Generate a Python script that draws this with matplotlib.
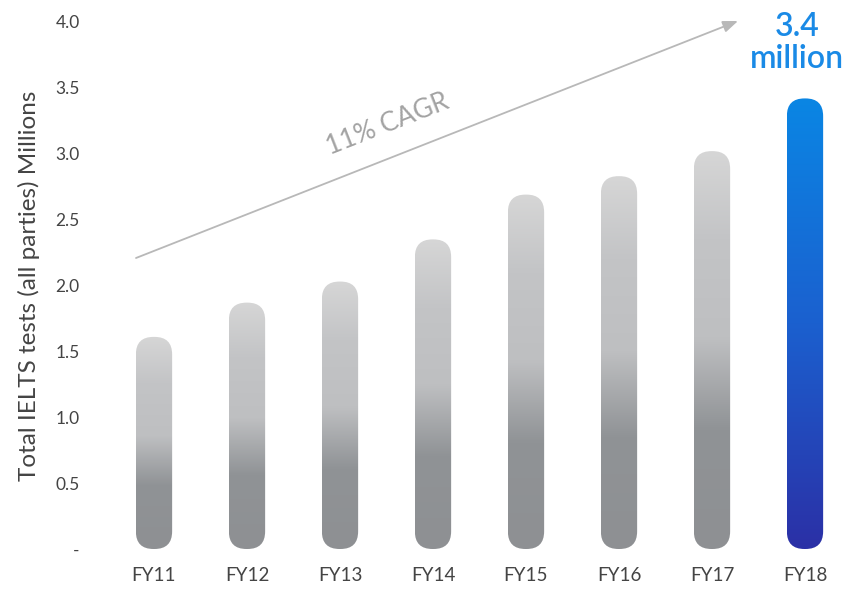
import numpy as np
import matplotlib
matplotlib.use("Agg")
import matplotlib.pyplot as plt
from matplotlib.patches import FancyBboxPatch
from matplotlib.colors import LinearSegmentedColormap

categories = ["FY11", "FY12", "FY13", "FY14", "FY15", "FY16", "FY17", "FY18"]
values = [1.61, 1.87, 2.03, 2.35, 2.69, 2.83, 3.02, 3.42]
ytick_vals = [0, 0.5, 1.0, 1.5, 2.0, 2.5, 3.0, 3.5, 4.0]
ytick_labels = ["-", "0.5", "1.0", "1.5", "2.0", "2.5", "3.0", "3.5", "4.0"]
ylabel = "Total IELTS tests (all parties) Millions"
cagr_label = "11% CAGR"
highlight_label = "3.4\nmillion"

plt.rcParams['font.family'] = ['Lato', 'DejaVu Sans']

W, H = 852, 590
fig = plt.figure(figsize=(W / 100, H / 100), dpi=100)
left_px, right_px, bottom_px, top_px = 107.5, 851.5, 549, 22
ax = fig.add_axes([left_px / W, (H - bottom_px) / H,
                   (right_px - left_px) / W, (bottom_px - top_px) / H])
ax.set_xlim(-0.5, 7.5)
ax.set_ylim(0, 4.0)

px_per_x = (right_px - left_px) / 8.0
px_per_y = (bottom_px - top_px) / 4.0
aspect = px_per_x / px_per_y

grey = LinearSegmentedColormap.from_list(
    "grey", [(0.0, "#d6d6d6"), (0.22, "#c3c4c6"), (0.47, "#bebfc1"),
             (0.70, "#909396"), (1.0, "#8e9093")])
blue = LinearSegmentedColormap.from_list(
    "blue", [(0.0, "#0a86e4"), (0.5, "#1b60cf"), (1.0, "#2b30a6")])

bw = 0.39
x = np.arange(len(categories))
for i, (xi, v) in enumerate(zip(x, values)):
    cmap = blue if i == len(values) - 1 else grey
    grad = np.linspace(0, 1, 256).reshape(-1, 1)
    im = ax.imshow(grad, cmap=cmap, aspect="auto", origin="upper",
                   extent=[xi - bw / 2, xi + bw / 2, 0, v], zorder=2,
                   interpolation="bilinear")
    patch = FancyBboxPatch((xi - bw / 2, 0), bw, v,
                           boxstyle=f"round,pad=0,rounding_size={bw / 2 * 0.97}",
                           mutation_aspect=aspect, facecolor="none",
                           edgecolor="none", transform=ax.transData)
    ax.add_patch(patch)
    im.set_clip_path(patch)

ax.set_xlim(-0.5, 7.5)
ax.set_ylim(0, 4.0)

for s in ax.spines.values():
    s.set_visible(False)
ax.set_xticks(x)
ax.set_xticklabels(categories, fontsize=13.5, color="#444444")
ax.set_yticks(ytick_vals)
ax.set_yticklabels(ytick_labels, fontsize=12.5, color="#444444")
ax.tick_params(axis="both", length=0)
ax.tick_params(axis="y", pad=20)
ax.tick_params(axis="x", pad=13)
ax.set_ylabel(ylabel, fontsize=17.5, color="#444444", labelpad=11)

# CAGR arrow
x0 = (136 - left_px) / px_per_x - 0.5
y0 = (bottom_px - 258) / px_per_y
x1 = (738 - left_px) / px_per_x - 0.5
y1 = (bottom_px - 21) / px_per_y
ax.annotate("", xy=(x1, y1), xytext=(x0, y0), annotation_clip=False,
            arrowprops=dict(arrowstyle="-|>,head_length=0.9,head_width=0.35",
                            color="#b8b8b8", lw=1.3, shrinkA=0, shrinkB=0))
ax.text((388 - left_px) / px_per_x - 0.5, (bottom_px - 124) / px_per_y,
        cagr_label, rotation=21.4, rotation_mode="anchor", ha="center",
        va="center", fontsize=19, color="#a3a3a3")

ax.text(7 - 0.09, (bottom_px - 43) / px_per_y, highlight_label,
        ha="center", va="center", fontsize=23, color="#1a8ae6",
        fontweight="semibold", linespacing=1.1, clip_on=False)

fig.savefig("out.png", dpi=100, facecolor="white")
